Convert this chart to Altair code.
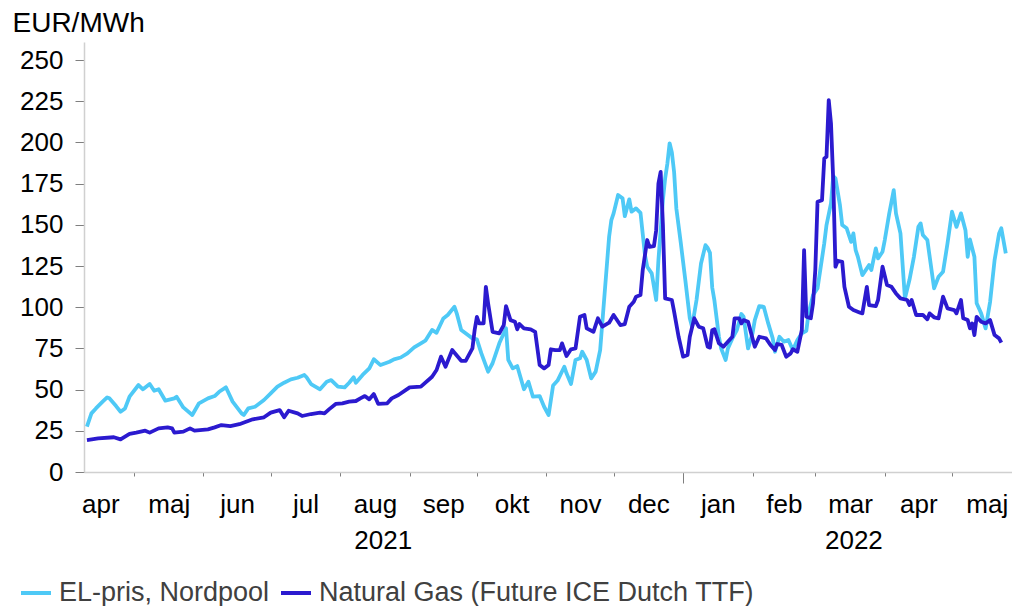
import json
import altair as alt
import pandas as pd

FONT = "Liberation Sans"
SERIES = ["EL-pris, Nordpool", "Natural Gas (Future ICE Dutch TTF)"]
COLORS = ["#4EC9F6", "#2B1ACF"]

el_dates = [
    "2021-04-10", "2021-04-12", "2021-04-14", "2021-04-17", "2021-04-19", "2021-04-20",
    "2021-04-23", "2021-04-25", "2021-04-27", "2021-04-29", "2021-05-03", "2021-05-05",
    "2021-05-08", "2021-05-10", "2021-05-12", "2021-05-15", "2021-05-19", "2021-05-20",
    "2021-05-23", "2021-05-27", "2021-05-30", "2021-06-03", "2021-06-06", "2021-06-08",
    "2021-06-11", "2021-06-14", "2021-06-18", "2021-06-19", "2021-06-21", "2021-06-24",
    "2021-06-28", "2021-07-01", "2021-07-04", "2021-07-07", "2021-07-10", "2021-07-13",
    "2021-07-16", "2021-07-17", "2021-07-19", "2021-07-23", "2021-07-26", "2021-07-28",
    "2021-07-31", "2021-08-03", "2021-08-05", "2021-08-07", "2021-08-08", "2021-08-11",
    "2021-08-14", "2021-08-16", "2021-08-19", "2021-08-23", "2021-08-25", "2021-08-28",
    "2021-08-31", "2021-09-03", "2021-09-06", "2021-09-08", "2021-09-11", "2021-09-13",
    "2021-09-16", "2021-09-18", "2021-09-21", "2021-09-22", "2021-09-24", "2021-09-27",
    "2021-09-29", "2021-10-01", "2021-10-03", "2021-10-06", "2021-10-08", "2021-10-11",
    "2021-10-14", "2021-10-15", "2021-10-17", "2021-10-19", "2021-10-22", "2021-10-24",
    "2021-10-26", "2021-10-29", "2021-10-31", "2021-11-02", "2021-11-04", "2021-11-06",
    "2021-11-09", "2021-11-10", "2021-11-12", "2021-11-14", "2021-11-16", "2021-11-17",
    "2021-11-19", "2021-11-21", "2021-11-23", "2021-11-25", "2021-11-27", "2021-11-29",
    "2021-11-30", "2021-12-01", "2021-12-03", "2021-12-05", "2021-12-06", "2021-12-08",
    "2021-12-09", "2021-12-11", "2021-12-13", "2021-12-15", "2021-12-16", "2021-12-18",
    "2021-12-20", "2021-12-21", "2021-12-23", "2021-12-24", "2021-12-25", "2021-12-26",
    "2021-12-27", "2021-12-28", "2021-12-29", "2021-12-31", "2022-01-02", "2022-01-04",
    "2022-01-05", "2022-01-07", "2022-01-09", "2022-01-11", "2022-01-12", "2022-01-13",
    "2022-01-14", "2022-01-15", "2022-01-17", "2022-01-18", "2022-01-20", "2022-01-21",
    "2022-01-23", "2022-01-25", "2022-01-27", "2022-01-28", "2022-01-30", "2022-02-01",
    "2022-02-02", "2022-02-04", "2022-02-06", "2022-02-08", "2022-02-10", "2022-02-11",
    "2022-02-13", "2022-02-15", "2022-02-17", "2022-02-19", "2022-02-21", "2022-02-23",
    "2022-02-25", "2022-02-26", "2022-02-28", "2022-03-02", "2022-03-05", "2022-03-06",
    "2022-03-08", "2022-03-09", "2022-03-10", "2022-03-12", "2022-03-13", "2022-03-15",
    "2022-03-17", "2022-03-18", "2022-03-19", "2022-03-20", "2022-03-22", "2022-03-25",
    "2022-03-26", "2022-03-28", "2022-03-29", "2022-03-31", "2022-04-01", "2022-04-03",
    "2022-04-05", "2022-04-06", "2022-04-08", "2022-04-10", "2022-04-12", "2022-04-14",
    "2022-04-16", "2022-04-17", "2022-04-18", "2022-04-20", "2022-04-23", "2022-04-25",
    "2022-04-27", "2022-04-29", "2022-05-01", "2022-05-03", "2022-05-05", "2022-05-07",
    "2022-05-08", "2022-05-09", "2022-05-11", "2022-05-12", "2022-05-14", "2022-05-16",
    "2022-05-18", "2022-05-20", "2022-05-22", "2022-05-23", "2022-05-25",
]
el_values = [
    27.5, 35.6, 38.6, 42.7, 45.3, 44.7,
    40.0, 36.6, 38.6, 45.7, 52.8, 50.2,
    53.4, 49.3, 50.2, 43.3, 44.7, 45.7,
    39.2, 34.6, 41.7, 44.7, 46.1, 48.7,
    51.4, 42.7, 35.6, 34.6, 38.6, 39.6,
    43.7, 47.7, 51.8, 54.2, 56.2, 57.2,
    58.9, 57.5, 53.4, 50.2, 54.8, 55.8,
    51.8, 51.4, 54.2, 57.5, 54.2, 58.9,
    62.9, 68.4, 64.9, 66.9, 68.4, 69.5,
    72.0, 75.6, 78.1, 79.7, 86.2, 84.5,
    93.2, 95.3, 100.3, 96.3, 86.2, 83.1,
    81.1, 80.5, 72.0, 60.9, 66.0, 78.1,
    87.2, 68.0, 62.9, 64.3, 50.2, 54.8,
    45.7, 46.1, 39.6, 34.6, 52.5, 55.5,
    63.9, 59.9, 53.4, 68.0, 69.0, 73.0,
    68.0, 56.8, 60.9, 74.0, 108.4, 142.8,
    152.9, 157.0, 168.1, 166.1, 155.3, 165.5,
    158.0, 160.0, 157.3, 131.7, 124.6, 120.6,
    104.4, 128.6, 165.0, 178.2, 187.3, 199.5,
    194.0, 182.0, 160.0, 138.8, 116.5, 93.3,
    88.2, 104.4, 126.6, 137.7, 136.0, 133.0,
    112.0, 104.0, 82.1, 75.0, 68.0, 75.0,
    81.1, 86.2, 95.9, 94.2, 75.0, 84.2,
    92.2, 100.7, 100.3, 90.2, 81.1, 73.0,
    82.1, 79.1, 80.1, 74.0, 80.1, 84.2,
    85.7, 96.3, 107.4, 111.5, 138.8, 149.9,
    163.0, 179.6, 178.2, 162.0, 149.9, 147.9,
    139.7, 144.8, 134.7, 130.6, 119.5, 125.6,
    122.6, 135.7, 129.7, 133.7, 140.8, 157.0,
    171.1, 157.0, 144.8, 105.4, 116.5, 130.6,
    148.8, 150.9, 143.8, 140.8, 111.5, 118.5,
    121.5, 138.8, 158.0, 148.8, 157.0, 146.8,
    130.6, 141.2, 130.6, 102.4, 96.3, 87.2,
    103.3, 128.6, 144.8, 147.9, 132.7,
]

gas_dates = [
    "2021-04-10", "2021-04-15", "2021-04-22", "2021-04-25", "2021-04-29", "2021-05-02",
    "2021-05-06", "2021-05-08", "2021-05-12", "2021-05-16", "2021-05-18", "2021-05-19",
    "2021-05-23", "2021-05-26", "2021-05-28", "2021-06-03", "2021-06-06", "2021-06-09",
    "2021-06-13", "2021-06-17", "2021-06-23", "2021-06-28", "2021-07-01", "2021-07-05",
    "2021-07-07", "2021-07-09", "2021-07-13", "2021-07-15", "2021-07-19", "2021-07-23",
    "2021-07-25", "2021-07-27", "2021-07-30", "2021-08-02", "2021-08-05", "2021-08-08",
    "2021-08-10", "2021-08-12", "2021-08-14", "2021-08-16", "2021-08-18", "2021-08-22",
    "2021-08-24", "2021-08-27", "2021-09-01", "2021-09-06", "2021-09-11", "2021-09-13",
    "2021-09-15", "2021-09-17", "2021-09-20", "2021-09-21", "2021-09-24", "2021-09-26",
    "2021-09-29", "2021-09-30", "2021-10-01", "2021-10-02", "2021-10-04", "2021-10-05",
    "2021-10-06", "2021-10-08", "2021-10-11", "2021-10-13", "2021-10-14", "2021-10-16",
    "2021-10-18", "2021-10-19", "2021-10-20", "2021-10-22", "2021-10-25", "2021-10-27",
    "2021-10-29", "2021-10-31", "2021-11-02", "2021-11-03", "2021-11-05", "2021-11-07",
    "2021-11-08", "2021-11-10", "2021-11-12", "2021-11-14", "2021-11-16", "2021-11-18",
    "2021-11-19", "2021-11-22", "2021-11-24", "2021-11-26", "2021-11-29", "2021-12-01",
    "2021-12-04", "2021-12-06", "2021-12-08", "2021-12-10", "2021-12-11", "2021-12-13",
    "2021-12-14", "2021-12-16", "2021-12-17", "2021-12-19", "2021-12-20", "2021-12-21",
    "2021-12-22", "2021-12-23", "2021-12-24", "2021-12-27", "2021-12-28", "2021-12-30",
    "2022-01-01", "2022-01-03", "2022-01-04", "2022-01-06", "2022-01-08", "2022-01-10",
    "2022-01-12", "2022-01-13", "2022-01-14", "2022-01-15", "2022-01-17", "2022-01-19",
    "2022-01-21", "2022-01-23", "2022-01-24", "2022-01-26", "2022-01-27", "2022-01-28",
    "2022-01-30", "2022-02-01", "2022-02-02", "2022-02-04", "2022-02-07", "2022-02-09",
    "2022-02-11", "2022-02-12", "2022-02-14", "2022-02-16", "2022-02-18", "2022-02-19",
    "2022-02-21", "2022-02-23", "2022-02-24", "2022-02-25", "2022-02-27", "2022-02-28",
    "2022-03-01", "2022-03-02", "2022-03-04", "2022-03-05", "2022-03-06", "2022-03-07",
    "2022-03-08", "2022-03-09", "2022-03-10", "2022-03-11", "2022-03-13", "2022-03-14",
    "2022-03-16", "2022-03-18", "2022-03-21", "2022-03-22", "2022-03-24", "2022-03-25",
    "2022-03-28", "2022-03-29", "2022-03-31", "2022-04-02", "2022-04-04", "2022-04-06",
    "2022-04-08", "2022-04-11", "2022-04-12", "2022-04-13", "2022-04-15", "2022-04-18",
    "2022-04-20", "2022-04-21", "2022-04-23", "2022-04-25", "2022-04-27", "2022-04-29",
    "2022-05-02", "2022-05-03", "2022-05-05", "2022-05-06", "2022-05-08", "2022-05-09",
    "2022-05-10", "2022-05-11", "2022-05-12", "2022-05-14", "2022-05-16", "2022-05-18",
    "2022-05-20", "2022-05-22", "2022-05-23",
]
gas_values = [
    19.4, 20.4, 21.1, 19.8, 23.1, 23.9,
    25.1, 23.9, 26.5, 27.1, 26.5, 23.9,
    24.5, 26.5, 25.1, 25.9, 27.1, 28.5,
    27.9, 29.0, 32.0, 33.2, 36.0, 37.6,
    33.2, 37.2, 35.6, 34.0, 35.2, 36.0,
    35.6, 38.0, 41.3, 41.7, 42.7, 43.1,
    44.7, 46.1, 44.1, 47.3, 41.3, 41.7,
    44.7, 46.7, 51.4, 51.8, 57.8, 61.9,
    70.0, 63.9, 74.0, 72.4, 67.5, 67.5,
    75.0, 86.2, 94.2, 90.2, 90.2, 112.4,
    102.4, 85.1, 84.2, 89.2, 100.7, 92.2,
    91.2, 86.6, 89.8, 87.2, 86.6, 85.1,
    64.9, 62.9, 64.9, 74.5, 74.0, 74.0,
    78.1, 70.4, 74.5, 75.0, 94.2, 95.3,
    87.2, 85.1, 93.3, 88.2, 90.6, 95.3,
    89.2, 89.8, 100.3, 103.3, 106.4, 107.4,
    122.6, 140.8, 136.7, 137.1, 146.8, 175.0,
    182.2, 150.0, 105.4, 104.4, 97.3, 82.1,
    70.0, 71.0, 82.1, 93.3, 88.2, 87.2,
    76.0, 75.5, 86.0, 86.6, 78.1, 76.0,
    79.1, 82.1, 93.3, 93.3, 90.2, 92.2,
    91.2, 81.1, 76.0, 82.1, 81.1, 77.1,
    74.0, 77.7, 77.1, 70.0, 72.0, 74.5,
    73.0, 86.2, 134.7, 94.2, 93.3, 102.4,
    122.6, 164.0, 165.0, 190.3, 191.3, 225.7,
    211.6, 177.2, 124.6, 128.2, 127.6, 112.4,
    100.3, 98.3, 96.7, 96.3, 112.4, 101.3,
    100.7, 104.4, 124.6, 113.5, 112.4, 108.4,
    105.4, 104.4, 101.3, 104.4, 95.3, 95.3,
    92.7, 96.3, 93.9, 93.3, 106.4, 99.3,
    98.3, 96.3, 104.4, 93.3, 92.2, 87.2,
    90.2, 83.1, 94.2, 91.2, 90.2, 92.2,
    83.1, 81.1, 78.5,
]

# axis texts / positions
month_starts = [
    "2021-04-01", "2021-05-01", "2021-06-01", "2021-07-01", "2021-08-01",
    "2021-09-01", "2021-10-01", "2021-11-01", "2021-12-01", "2022-01-01",
    "2022-02-01", "2022-03-01", "2022-04-01", "2022-05-01", "2022-06-01",
]
month_names = ["jan", "feb", "mar", "apr", "maj", "jun", "jul", "aug", "sep", "okt", "nov", "dec"]
year_label_dates = ["2021-08-20", "2022-03-18"]
y_ticks = [0, 25, 50, 75, 100, 125, 150, 175, 200, 225, 250]
x_domain = ["2021-04-08T16:30:00", "2022-05-27T18:30:00"]
y_domain = [0, 261]


def ms(s):
    return int(pd.Timestamp(s).value // 10**6)


tick_values = [ms(s) for s in month_starts[1:-1]]
label_values = [(ms(a) + ms(b)) // 2 for a, b in zip(month_starts[:-1], month_starts[1:])]
year_values = [ms(s) for s in year_label_dates]

df = pd.DataFrame({
    "date": el_dates + gas_dates,
    "value": el_values + gas_values,
    "series": [SERIES[0]] * len(el_dates) + [SERIES[1]] * len(gas_dates),
})

xscale = alt.Scale(type="utc", domain=[ms(x_domain[0]), ms(x_domain[1])], nice=False)

tick_axis = alt.Axis(
    orient="bottom", values=tick_values, labels=False, title=None, grid=False,
    ticks=True,
    tickSize={"condition": {"test": "utcmonth(datum.value) === 0", "value": 11}, "value": 4},
    tickColor="#7f7f7f", tickWidth=1,
    domain=True, domainColor="#d0d0d0", domainWidth=1.5,
)

common_lbl = dict(
    orient="bottom", domain=False, ticks=False, tickSize=0, grid=False, title=None,
    labelFont=FONT, labelFontSize=26, labelColor="black", labelBaseline="alphabetic",
    labelAlign="center", labelFlush=False, labelOverlap=False, labelBound=False,
)
month_axis = alt.Axis(
    values=label_values,
    labelExpr=json.dumps(month_names) + "[utcmonth(datum.value)]",
    labelPadding=40, **common_lbl,
)
year_axis = alt.Axis(
    values=year_values,
    labelExpr="utcFormat(datum.value, '%Y')",
    labelPadding=76, **common_lbl,
)

y_axis = alt.Axis(
    values=y_ticks, grid=False, domainColor="#d0d0d0", domainWidth=1.5,
    tickColor="#7f7f7f", tickSize=9, labelPadding=12,
    labelFont=FONT, labelFontSize=26, labelColor="black",
    title="EUR/MWh", titleAngle=0, titleAlign="left", titleBaseline="alphabetic",
    titleX=-72, titleY=-10.5, titleFont=FONT, titleFontSize=28,
    titleFontWeight="normal", titleColor="black",
)

legend = alt.Legend(
    title=None, orient="none", legendX=-65, legendY=534, direction="horizontal",
    symbolType="stroke", symbolSize=900, symbolStrokeWidth=4,
    labelFont=FONT, labelFontSize=27, labelColor="#404040", labelOffset=6,
    labelLimit=1000, columnPadding=3, padding=0,
)

lines = alt.Chart(df).mark_line(strokeWidth=3.8, strokeJoin="round").encode(
    x=alt.X("date:T", scale=xscale, axis=tick_axis),
    y=alt.Y("value:Q", scale=alt.Scale(domain=y_domain, nice=False, zero=True), axis=y_axis),
    color=alt.Color("series:N", scale=alt.Scale(domain=SERIES, range=COLORS), legend=legend),
)

month_layer = alt.Chart(df).mark_point(opacity=0).encode(
    x=alt.X("date:T", scale=xscale, axis=month_axis)
)
year_layer = alt.Chart(df).mark_point(opacity=0).encode(
    x=alt.X("date:T", scale=xscale, axis=year_axis)
)

chart = (
    alt.layer(lines, month_layer, year_layer)
    .resolve_axis(x="independent")
    .properties(
        width=928, height=430,
        autosize=alt.AutoSizeParams(type="none"),
        padding={"left": 76, "top": 34, "right": 0, "bottom": 136},
        background="white",
    )
    .configure_view(stroke=None)
)

chart.save("out.html", embed_options={"renderer": "svg", "actions": False})
